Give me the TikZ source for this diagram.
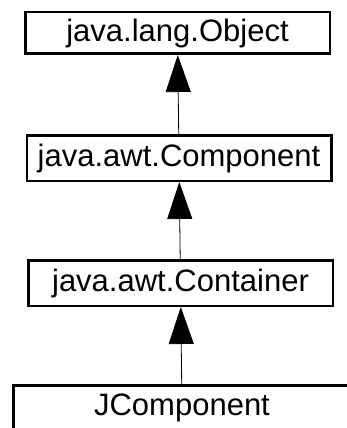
\documentclass[tikz,border=0pt]{standalone}
\usepackage{fontspec}
\setmainfont{Liberation Sans}
\usepackage{tikz}
\usetikzlibrary{positioning,arrows.meta}

\tikzset{
  classbox/.style={draw, line width=2.5pt, minimum width=304.5pt, minimum height=45.5pt,
    inner sep=0pt, font=\fontsize{31}{36}\selectfont},
}

\begin{document}
\begin{tikzpicture}[>={Triangle[length=37pt,width=25pt]},node distance=125pt,on grid]
            \useasboundingbox (0,0) rectangle (347pt,-428pt);
            \node[classbox, minimum height=41.5pt] (obj) at (177.5pt,-33pt) {java.lang.Object};
            \node[classbox] (comp) [below=of obj, xshift=1.5pt] {java.awt.Component};
            \node[classbox] (cont) [below=of comp, xshift=1.5pt] {java.awt.Container};
            \node[classbox, minimum width=337.5pt] (jcomp) [below=of cont, xshift=1.5pt] {JComponent};
            \path[->, line width=0.8pt]
                (comp) edge (obj)
                (cont) edge (comp)
                (jcomp) edge (cont);
        \end{tikzpicture}
\end{document}
